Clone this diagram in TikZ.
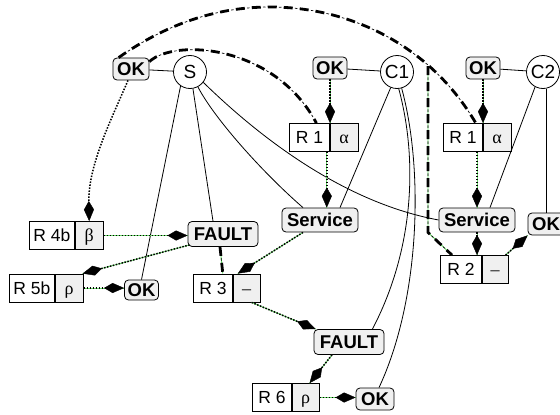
\documentclass[tikz,border=0pt]{standalone}
\usepackage{fontspec}
\setmainfont{Liberation Sans}
\newfontfamily\greekfont{Liberation Serif}
\usetikzlibrary{arrows.meta,calc}

\definecolor{boxfill}{gray}{0.94}
\definecolor{linkgreen}{RGB}{100,215,100}

\tikzset{
  lbl/.style={draw, rounded corners=4pt, fill=boxfill, line width=0.8pt, inner sep=0pt,
    font=\fontsize{18.5}{21}\selectfont\bfseries, text height=13.2pt, text depth=0pt, minimum height=22pt},
  proc/.style={draw, circle, fill=white, line width=0.8pt, inner sep=0pt, minimum size=33pt,
    font=\fontsize{19}{22}\selectfont, text height=13.6pt, text depth=0pt},
  rkey/.style={draw, line width=0.8pt, inner sep=0pt, fill=white, minimum height=28pt,
    font=\fontsize{17.5}{20}\selectfont, text height=12.5pt, text depth=0pt, anchor=west},
  rval/.style={rkey, fill=boxfill, font=\fontsize{18}{21}\selectfont\greekfont},
  solidlink/.style={line width=0.8pt},
  tip/.style={-{Kite[length=20pt,width=10pt,inset=8.5pt,line width=0.4pt]}},
  dotplain/.style={line width=1.5pt, dash pattern=on 1.5pt off 1.5pt, tip},
  dotlink/.style={dotplain, preaction={draw, -, solid, linkgreen, line width=0.9pt}},
  heavy/.style={line width=2.8pt, dash pattern=on 9pt off 7pt,
    postaction={draw, -, black, line width=0.7pt, dash pattern=on 2.5pt off 13.5pt, dash phase=4.75pt}},
  heavygreen/.style={heavy, preaction={draw, linkgreen, line width=0.9pt, solid}},
}

\begin{document}
\begin{tikzpicture}[x=1pt,y=-1pt]
\useasboundingbox (0,0) rectangle (560,415);

% processes and their OK labels
\node[lbl, minimum width=36pt] (oks) at (131,69) {OK};
\node[proc] (s) at (190,72) {S};
\node[lbl, minimum width=34pt] (okc1) at (330,68) {OK};
\node[proc] (c1) at (397,72) {C1};
\node[lbl, minimum width=34pt] (okc2) at (483,68) {OK};
\node[proc] (c2) at (543,72) {C2};

% records: key part and value part
\node[rkey, minimum width=40pt] (r1a) at (289,137.5) {R 1};
\node[rval, minimum width=28pt] (r1av) at (r1a.east) {α};
\node[rkey, minimum width=39pt] (r1b) at (443,137.5) {R 1};
\node[rval, minimum width=28pt] (r1bv) at (r1b.east) {α};
\node[rkey, minimum width=41pt] (r2) at (440,269.5) {R 2};
\node[rval, minimum width=26pt] (r2v) at (r2.east) {–};
\node[rkey, minimum width=45pt] (r4b) at (29,235.5) {R 4b};
\node[rval, minimum width=28pt] (r4bv) at (r4b.east) {β};
\node[rkey, minimum width=45pt] (r5b) at (9,288) {R 5b};
\node[rval, minimum width=28pt] (r5bv) at (r5b.east) {ρ};
\node[rkey, minimum width=39pt] (r3) at (193,288) {R 3};
\node[rval, minimum width=27pt] (r3v) at (r3.east) {–};
\node[rkey, minimum width=39pt] (r6) at (252,397.5) {R 6};
\node[rval, minimum width=27pt] (r6v) at (r6.east) {ρ};

% services, faults and outcomes
\node[lbl, minimum width=76pt, minimum height=24pt] (svc1) at (320,220) {Service};
\node[lbl, minimum width=76pt, minimum height=24pt] (svc2) at (477,220) {Service};
\node[lbl, minimum width=36pt] (okr) at (546,224) {OK};
\node[lbl, minimum width=70pt, minimum height=25pt] (f1) at (223,234) {FAULT};
\node[lbl, minimum width=34pt, minimum height=20pt] (okll) at (141.5,290) {OK};
\node[lbl, minimum width=70pt, minimum height=25pt] (f2) at (349,342) {FAULT};
\node[lbl, minimum width=38pt] (okb) at (375,399) {OK};

% plain links
\draw[solidlink] (oks) -- (s);
\draw[solidlink] (okc1) -- (c1);
\draw[solidlink] (okc2) -- (c2);
\draw[solidlink] (s.-124) -- (okll.north);
\draw[solidlink] (s.-80) -- ([xshift=-10pt]f1.north);
\draw[solidlink] (s.-62) .. controls (214,118) and (262,172) .. ([xshift=-17pt]svc1.north);
\draw[solidlink] (s.-38) .. controls (240,118) and (330,200) .. (svc2.west);
\draw[solidlink] (c1.-112) -- ([xshift=20pt]svc1.north);
\draw[solidlink] (c1.-84) .. controls (418,160) and (414,250) .. ([xshift=-12pt]f2.north east);
\draw[solidlink] (c1.-74) .. controls (424,170) and (420,300) .. ([xshift=4pt]okb.north);
\draw[solidlink] (c2.-118) -- ([xshift=13pt]svc2.north);
\draw[solidlink] (okr.north) -- (okr.north |- c2.south);

% heavy dash-dot links
\coordinate (fork) at (428,66);
\draw[heavy] ([yshift=-4pt]oks.north east) .. controls (175,38) and (275,45) .. ([xshift=7pt]r1a.north);
\draw[heavy] ([xshift=6pt]oks.north west) .. controls (165,25) and (215,7) .. (270,7)
  .. controls (350,7) and (430,45) .. ([xshift=-7pt]r1b.north east);
\draw[heavygreen] (fork) -- (fork |- svc2.south) -- ([xshift=12pt]r2.north west);
\draw[heavygreen] ([xshift=-3pt]f1.south) -- ([xshift=-10pt]r3.north east);

% dotted links with kite tips
\draw[dotlink] (okc1.south) -- (okc1.south |- r1a.north);
\draw[dotlink] ([xshift=-3pt]r1a.south east) -- ([xshift=-3pt]r1a.south east |- svc1.north);
\draw[dotlink] (okc2.south) -- (okc2.south |- r1b.north);
\draw[dotlink] (svc2.north |- r1b.south) -- (svc2.north);
\draw[dotlink] (svc2.south) -- (svc2.south |- r2.north);
\draw[dotlink] ([xshift=-3pt]r2v.north east) -- (okr.south west);
\draw[dotplain] ([xshift=-3pt]oks.south) .. controls (112,118) and (88,165) .. (r4bv.north);
\draw[dotlink] (r4bv.east) -- (r4bv.east -| f1.west);
\draw[dotlink] ([xshift=2pt,yshift=2pt]f1.south west) -- ([xshift=-1pt]r5bv.north east);
\draw[dotlink] (r5bv.east) -- (r5bv.east -| okll.west);
\draw[dotlink] ([xshift=-17pt]svc1.south) -- ([xshift=5pt]r3v.north west);
\draw[dotlink] ([xshift=-9pt]r3v.south east) -- ([xshift=2pt]f2.north west);
\draw[dotlink] ([xshift=-17pt]f2.south) -- ([xshift=-10pt]r6v.north east);
\draw[dotlink] (r6v.east) -- (r6v.east -| okb.west);
\end{tikzpicture}
\end{document}
